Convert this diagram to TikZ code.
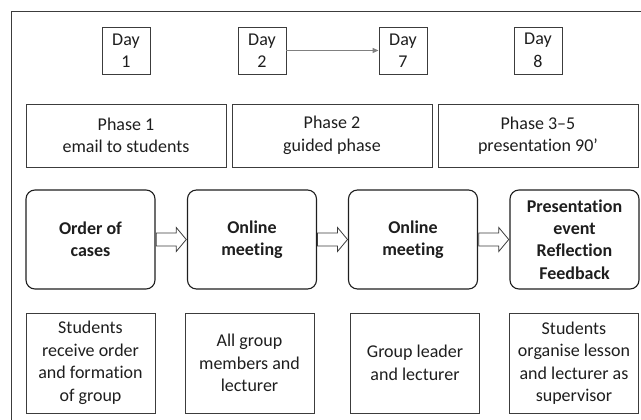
\documentclass[tikz,border=0pt]{standalone}
\usepackage{fontspec}
\setmainfont{Carlito}[Ligatures={NoCommon}]
\usetikzlibrary{arrows.meta,calc}
\definecolor{txt}{HTML}{1E1E1E}
\definecolor{frm}{HTML}{3C3C3C}
\definecolor{arr}{HTML}{808080}
\begin{document}
\begin{tikzpicture}[x=1pt,y=1pt,
  every node/.style={font=\fontsize{18}{22.5}\selectfont, text=txt, align=center, inner sep=0pt},
  daybox/.style={draw=frm, line width=0.9pt, minimum width=48pt, minimum height=47pt},
  phasebox/.style={draw=frm, line width=0.9pt, minimum width=200pt, minimum height=63pt},
  stagebox/.style={draw=black!88, line width=1.1pt, rounded corners=9pt, minimum width=129pt, minimum height=99pt, font=\fontsize{18}{22.3}\selectfont\bfseries},
  infobox/.style={draw=frm, line width=0.9pt, minimum width=129pt, minimum height=100pt},
  dayarrow/.style={draw=arr, line width=1.2pt, -{Triangle[length=6pt,width=5pt]}},
  blockarrow/.style={draw=frm, line width=0.8pt, fill=white, line join=miter},
  frameline/.style={draw=frm, line width=1pt}
]
\useasboundingbox (0,0) rectangle (641,420);
% outer frame
\coordinate (fa) at (11,-5);
\coordinate (fb) at (11,408);
\coordinate (fc) at (646,408);
\draw[frameline] (fa) -- (fb) -- (fc);
% days
\node[daybox] (d1) at (126,369.5) {Day\\1};
\node[daybox] (d2) at (262,369.5) {Day\\2};
\node[daybox] (d7) at (403,369.5) {Day\\7};
\node[daybox] (d8) at (538,369.5) {Day\\8};
\draw[dayarrow] (d2) -- (d7);
% phases
\node[phasebox] (p1) at (126,284.5) {Phase 1\\email to students};
\node[phasebox] (p2) at (332,284.5) {Phase 2\\guided phase};
\node[phasebox] (p3) at (538,284.5) {Phase 3–5\\presentation 90’};
% stages
\node[stagebox] (r1) at (90.5,180.5) {Order of\\cases};
\node[stagebox] (r2) at (252,180.5) {Online\\meeting};
\node[stagebox] (r3) at (413,180.5) {Online\\meeting};
\node[stagebox] (r4) at (574.5,180.5) {Presentation\\event\\Reflection\\Feedback};
\foreach \a/\b in {r1/r2, r2/r3, r3/r4} {
  \coordinate (m) at ($(\a.east)!0.5!(\b.west)$);
  \draw[blockarrow] ($(m)+(-15,6.5)$) -- ($(m)+(5,6.5)$) -- ($(m)+(5,12)$) -- ($(m)+(15,0)$)
    -- ($(m)+(5,-12)$) -- ($(m)+(5,-6.5)$) -- ($(m)+(-15,-6.5)$) -- cycle;
}
% info boxes
\node[infobox] (b1) at (90.5,57) {Students\\receive order\\and formation\\of group};
\node[infobox] (b2) at (249.5,57) {All group\\members and\\lecturer};
\node[infobox] (b3) at (415,57) {Group leader\\and lecturer};
\node[infobox] (b4) at (574,57) {Students\\organise lesson\\and lecturer as\\supervisor};
\end{tikzpicture}
\end{document}
